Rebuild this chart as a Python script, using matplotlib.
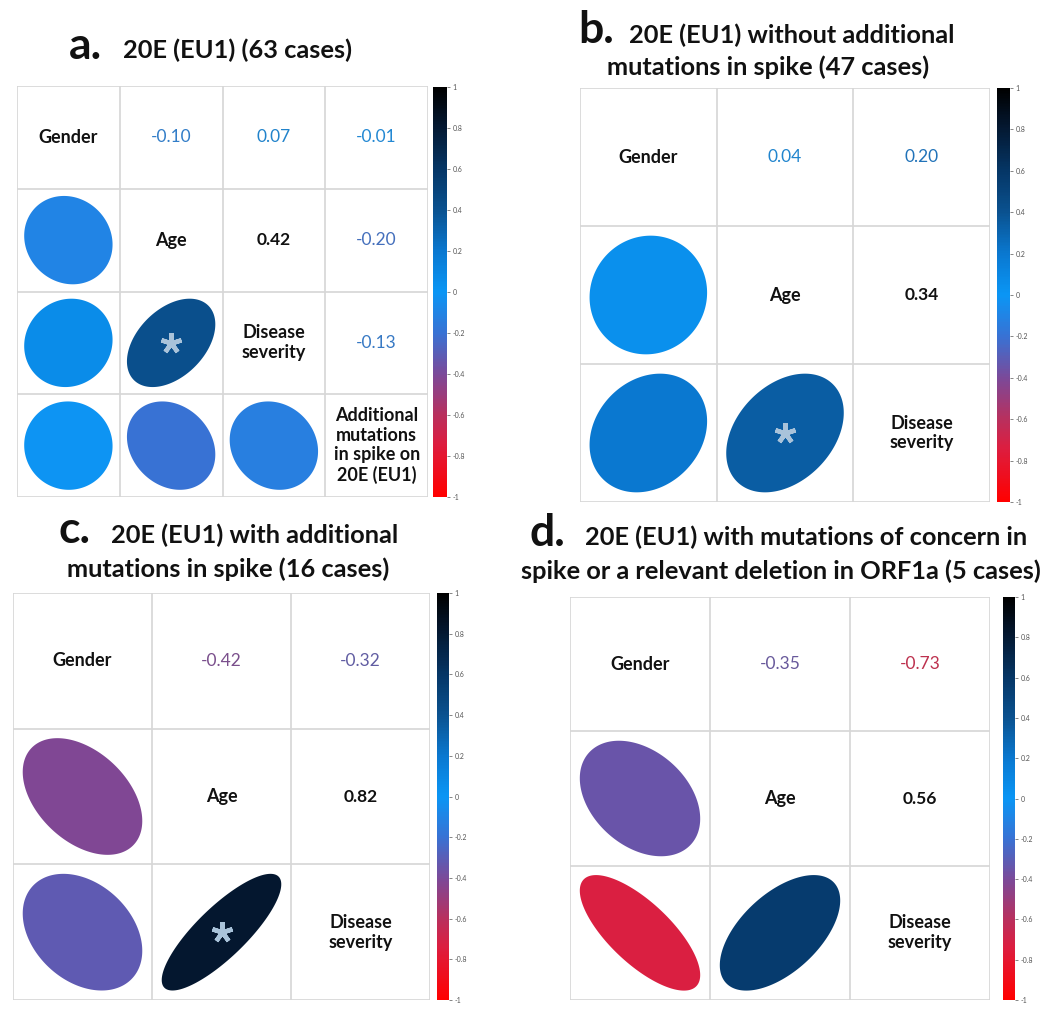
import matplotlib
matplotlib.use("Agg")
import matplotlib.pyplot as plt
import numpy as np
from matplotlib.colors import LinearSegmentedColormap, Normalize
from matplotlib.cm import ScalarMappable

plt.rcParams['font.family'] = ['Lato', 'DejaVu Sans']
plt.rcParams['axes.unicode_minus'] = False

W, H = 1047, 1016

# ---- data ----
labels_a = ["Gender", "Age", "Disease\nseverity", "Additional\nmutations\nin spike on\n20E (EU1)"]
corr_a = [[1.00, -0.10, 0.07, -0.01],
          [-0.10, 1.00, 0.42, -0.20],
          [0.07, 0.42, 1.00, -0.13],
          [-0.01, -0.20, -0.13, 1.00]]
bold_a = [(1, 2)]
star_a = [(1, 2)]

labels_3 = ["Gender", "Age", "Disease\nseverity"]
corr_b = [[1.00, 0.04, 0.20],
          [0.04, 1.00, 0.34],
          [0.20, 0.34, 1.00]]
bold_b = [(1, 2)]
star_b = [(1, 2)]

corr_c = [[1.00, -0.42, -0.32],
          [-0.42, 1.00, 0.82],
          [-0.32, 0.82, 1.00]]
bold_c = [(1, 2)]
star_c = [(1, 2)]

corr_d = [[1.00, -0.35, -0.73],
          [-0.35, 1.00, 0.56],
          [-0.73, 0.56, 1.00]]
bold_d = [(1, 2)]
star_d = []

letters = ["a.", "b.", "c.", "d."]
title_lines = [["20E (EU1) (63 cases)"],
               ["20E (EU1) without additional", "mutations in spike (47 cases)"],
               ["20E (EU1) with additional", "mutations in spike (16 cases)"],
               ["20E (EU1) with mutations of concern in",
                "spike or a relevant deletion in ORF1a (5 cases)"]]

ticks = [-1, -0.8, -0.6, -0.4, -0.2, 0, 0.2, 0.4, 0.6, 0.8, 1]

# colour scale
cmap = LinearSegmentedColormap.from_list("corr", [
    (0.00, "#ff0000"), (0.13, "#dc1e40"), (0.20, "#b8305e"), (0.30, "#7a4a9a"),
    (0.40, "#3872d4"), (0.50, "#0a96f5"), (0.60, "#0a78d0"), (0.70, "#0a5290"),
    (0.80, "#053666"), (0.90, "#041a34"), (1.00, "#000000")])
norm = Normalize(-1, 1)


def px_axes(fig, x0, y0, x1, y1):
    return fig.add_axes([x0 / W, 1 - y1 / H, (x1 - x0) / W, (y1 - y0) / H])


def text_colour(r):
    # numbers are a duller version of the scale colour
    c = np.array(cmap(norm(r))[:3])
    return tuple(0.75 * c + 0.25 * np.array([0.4, 0.4, 0.45]))


def corr_panel(fig, box, cbox, labels, corr, bold, star):
    n = len(labels)
    ax = px_axes(fig, *box)
    ax.set_xlim(0, n)
    ax.set_ylim(n, 0)
    ax.axis("off")
    for k in range(n + 1):
        ax.plot([k, k], [0, n], color="#d6d6d6", lw=1.2, zorder=1)
        ax.plot([0, n], [k, k], color="#d6d6d6", lw=1.2, zorder=1)
    t = np.linspace(0, 2 * np.pi, 200)
    for i in range(n):
        for j in range(n):
            r = corr[i][j]
            cx, cy = j + 0.5, i + 0.5
            if i == j:
                ax.text(cx, cy, labels[i], ha="center", va="center",
                        fontsize=13, fontweight="bold", color="#111111",
                        linespacing=1.2)
            elif j > i:
                if (i, j) in bold:
                    ax.text(cx, cy, f"{r:.2f}", ha="center", va="center",
                            fontsize=12.5, fontweight="bold", color="#111111")
                else:
                    ax.text(cx, cy, f"{r:.2f}", ha="center", va="center",
                            fontsize=12.5, color=text_colour(r))
            else:
                d = np.arccos(r)
                ex = np.cos(t + d / 2) * 0.43
                ey = -np.cos(t - d / 2) * 0.43
                ax.fill(cx + ex, cy + ey, color=cmap(norm(r)), lw=0, zorder=2)
                if (j, i) in star:
                    ax.plot(cx, cy, marker=(5, 2, 0), ms=15, mew=3.2,
                            color="#a9c3da", zorder=3)
    cax = px_axes(fig, *cbox)
    cb = fig.colorbar(ScalarMappable(norm=norm, cmap=cmap), cax=cax, ticks=ticks)
    cb.outline.set_visible(False)
    cb.ax.set_yticklabels([f"{v:g}" for v in ticks])
    cb.ax.tick_params(labelsize=5, length=2, width=0.5, colors="#555555", pad=2)


fig = plt.figure(figsize=(W / 100, H / 100), dpi=100)

corr_panel(fig, (17, 86, 428, 497), (433, 87, 447, 497), labels_a, corr_a, bold_a, star_a)
corr_panel(fig, (580, 88, 990, 502), (997, 88, 1010, 502), labels_3, corr_b, bold_b, star_b)
corr_panel(fig, (13, 593, 430, 1000), (437, 593, 449, 1000), labels_3, corr_c, bold_c, star_c)
corr_panel(fig, (570, 597, 990, 1000), (1003, 597, 1015, 1000), labels_3, corr_d, bold_d, star_d)

# title placement in pixels: letter centre, then centre of each text line
letter_pos = [(85, 46), (596, 30), (75, 530), (547, 533)]
line_pos = [[(238, 50)],
            [(792, 35), (768, 67)],
            [(255, 535), (228, 569)],
            [(806, 537), (781, 571)]]
for let, (lx, ly), lines, pos in zip(letters, letter_pos, title_lines, line_pos):
    fig.text(lx / W, 1 - ly / H, let, ha="center", va="center",
             fontsize=32, fontweight="bold", color="#111111")
    for txt, (tx, ty) in zip(lines, pos):
        fig.text(tx / W, 1 - ty / H, txt, ha="center", va="center",
                 fontsize=18.3, fontweight="bold", color="#111111")

fig.savefig("out.png", dpi=100, facecolor="white")
